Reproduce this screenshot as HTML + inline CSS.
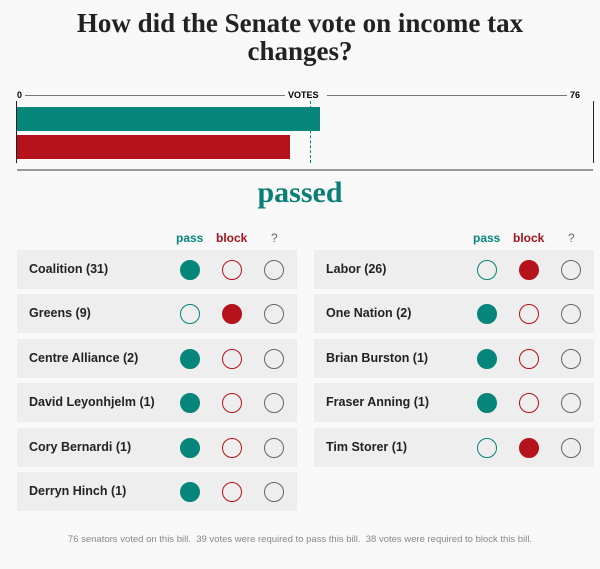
<!DOCTYPE html>
<html><head><style>
body{margin:0;background:#f9f9f9;width:600px;height:569px;position:relative;overflow:hidden;font-family:"Liberation Sans",sans-serif;}
.t{position:absolute;left:0;width:600px;text-align:center;font-family:"Liberation Serif",serif;font-weight:bold;color:#222;font-size:27px;line-height:28px;top:9px;}
.a{position:absolute;}
.card{position:absolute;height:39px;background:#eeeeee;}
.card span{position:absolute;left:12px;top:12px;font-size:12.5px;font-weight:bold;color:#222;}
.c{position:absolute;width:20px;height:20px;border-radius:50%;box-sizing:border-box;margin:-1.5px 0 0 -1.5px;}
.pf{background:#06857a;border:1.5px solid #06857a}
.po{border:1.5px solid #06857a}
.bf{background:#b5121b;border:1.5px solid #b5121b}
.bo{border:1.5px solid #b5121b}
.q{border:1.5px solid #666}
.h{position:absolute;top:231px;font-size:12px;font-weight:bold;}
</style></head><body>
<div class="t">How did the Senate vote on income tax<br>changes?</div>
<div class="a" style="left:17px;top:90px;font-size:9px;font-weight:bold">0</div>
<div class="a" style="left:25px;top:95px;width:260px;height:1px;background:#777"></div>
<div class="a" style="left:288px;top:90px;font-size:9px;font-weight:bold">VOTES</div>
<div class="a" style="left:327px;top:95px;width:240px;height:1px;background:#777"></div>
<div class="a" style="left:570px;top:90px;font-size:9px;font-weight:bold">76</div>
<div class="a" style="left:16px;top:101px;width:1px;height:62px;background:#222"></div>
<div class="a" style="left:593px;top:101px;width:1px;height:62px;background:#222"></div>
<div class="a" style="left:17px;top:107px;width:303px;height:24px;background:#06857a"></div>
<div class="a" style="left:17px;top:135px;width:273px;height:24px;background:#b5121b"></div>
<div class="a" style="left:310px;top:101px;height:62px;border-left:1px dashed #06857a"></div>
<div class="a" style="left:17px;top:169px;width:576px;height:2px;background:#999"></div>
<div class="a" style="left:0;width:600px;top:176px;text-align:center;font-family:'Liberation Serif',serif;font-weight:bold;font-size:30px;color:#0b7f75">passed</div>
<div class="h" style="left:176px;color:#06857a">pass</div>
<div class="h" style="left:216px;color:#a3141c">block</div>
<div class="h" style="left:271px;color:#666;font-weight:normal">?</div>
<div class="h" style="left:473px;color:#06857a">pass</div>
<div class="h" style="left:513px;color:#a3141c">block</div>
<div class="h" style="left:568px;color:#666;font-weight:normal">?</div>

<div class="card" style="left:17px;top:250px;width:280px"><span>Coalition (31)</span></div>
<div class="c pf" style="left:181px;top:261px"></div><div class="c bo" style="left:223px;top:261px"></div><div class="c q" style="left:265px;top:261px"></div>
<div class="card" style="left:17px;top:294px;width:280px"><span>Greens (9)</span></div>
<div class="c po" style="left:181px;top:305px"></div><div class="c bf" style="left:223px;top:305px"></div><div class="c q" style="left:265px;top:305px"></div>
<div class="card" style="left:17px;top:339px;width:280px"><span>Centre Alliance (2)</span></div>
<div class="c pf" style="left:181px;top:350px"></div><div class="c bo" style="left:223px;top:350px"></div><div class="c q" style="left:265px;top:350px"></div>
<div class="card" style="left:17px;top:383px;width:280px"><span>David Leyonhjelm (1)</span></div>
<div class="c pf" style="left:181px;top:394px"></div><div class="c bo" style="left:223px;top:394px"></div><div class="c q" style="left:265px;top:394px"></div>
<div class="card" style="left:17px;top:428px;width:280px"><span>Cory Bernardi (1)</span></div>
<div class="c pf" style="left:181px;top:439px"></div><div class="c bo" style="left:223px;top:439px"></div><div class="c q" style="left:265px;top:439px"></div>
<div class="card" style="left:17px;top:472px;width:280px"><span>Derryn Hinch (1)</span></div>
<div class="c pf" style="left:181px;top:483px"></div><div class="c bo" style="left:223px;top:483px"></div><div class="c q" style="left:265px;top:483px"></div>

<div class="card" style="left:314px;top:250px;width:280px"><span>Labor (26)</span></div>
<div class="c po" style="left:478px;top:261px"></div><div class="c bf" style="left:520px;top:261px"></div><div class="c q" style="left:562px;top:261px"></div>
<div class="card" style="left:314px;top:294px;width:280px"><span>One Nation (2)</span></div>
<div class="c pf" style="left:478px;top:305px"></div><div class="c bo" style="left:520px;top:305px"></div><div class="c q" style="left:562px;top:305px"></div>
<div class="card" style="left:314px;top:339px;width:280px"><span>Brian Burston (1)</span></div>
<div class="c pf" style="left:478px;top:350px"></div><div class="c bo" style="left:520px;top:350px"></div><div class="c q" style="left:562px;top:350px"></div>
<div class="card" style="left:314px;top:383px;width:280px"><span>Fraser Anning (1)</span></div>
<div class="c pf" style="left:478px;top:394px"></div><div class="c bo" style="left:520px;top:394px"></div><div class="c q" style="left:562px;top:394px"></div>
<div class="card" style="left:314px;top:428px;width:280px"><span>Tim Storer (1)</span></div>
<div class="c po" style="left:478px;top:439px"></div><div class="c bf" style="left:520px;top:439px"></div><div class="c q" style="left:562px;top:439px"></div>

<div class="a" style="left:0;width:600px;top:534px;text-align:center;font-size:9.5px;color:#888">76 senators voted on this bill.&nbsp; 39 votes were required to pass this bill.&nbsp; 38 votes were required to block this bill.</div>
</body></html>
